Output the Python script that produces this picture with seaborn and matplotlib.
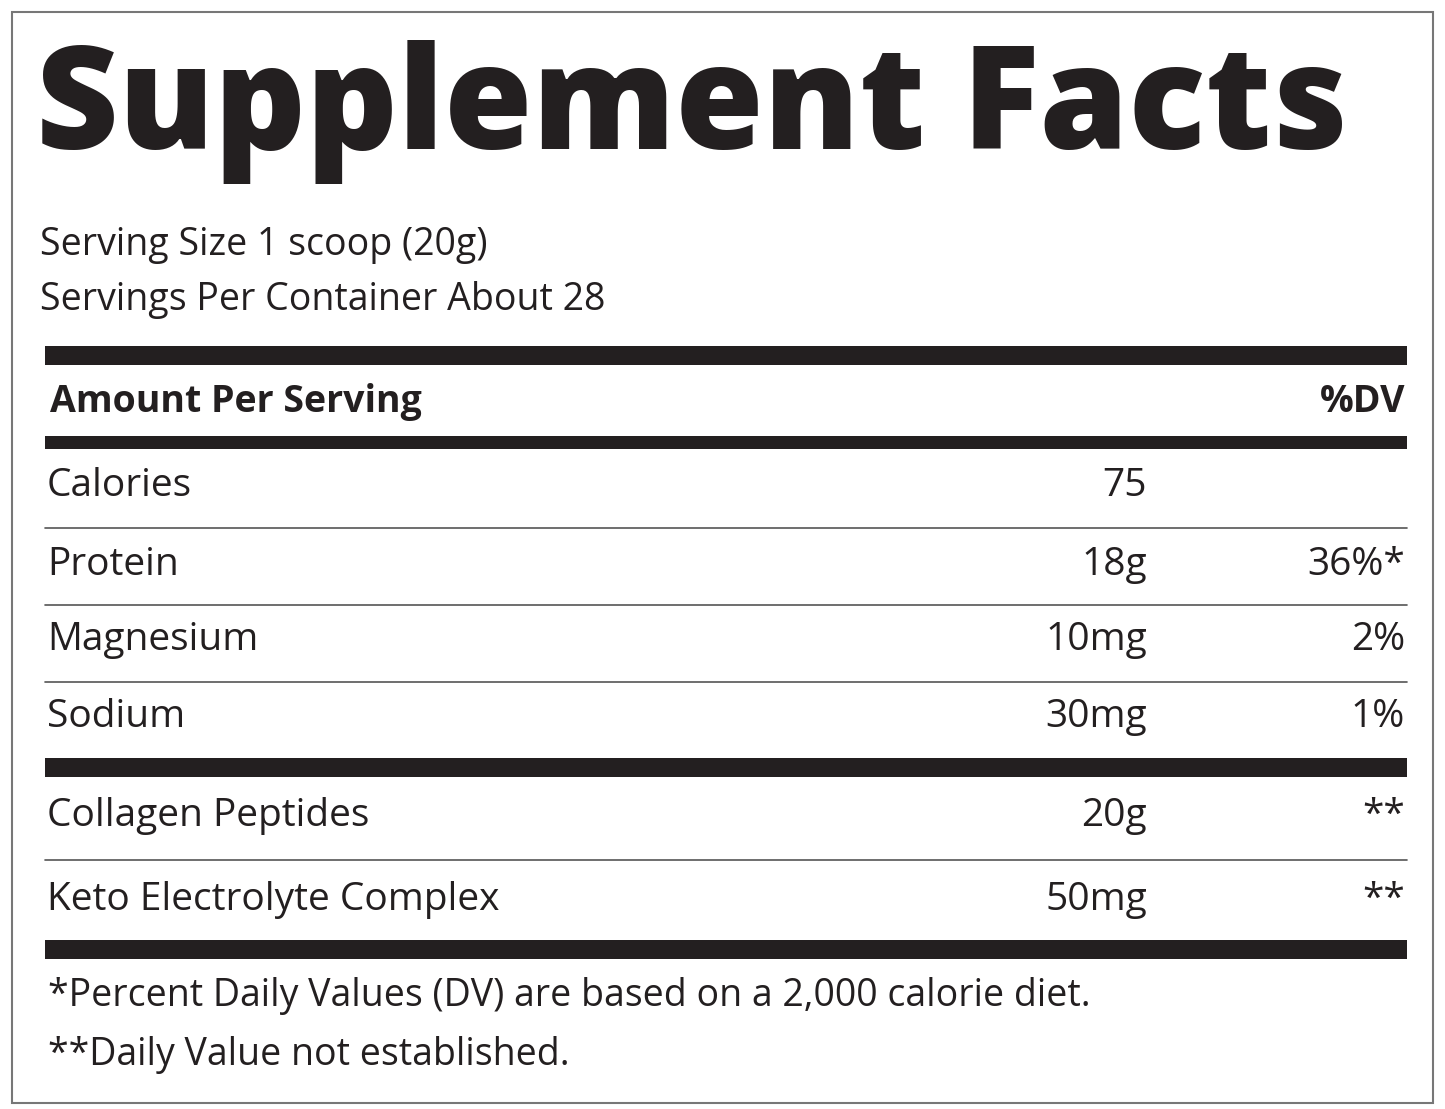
import matplotlib
matplotlib.use("Agg")
import matplotlib.pyplot as plt
import seaborn as sns

sns.set_style("white")
plt.rcParams['font.family'] = ['Open Sans', 'DejaVu Sans']

title = "Supplement Facts"
serving_lines = ["Serving Size 1 scoop (20g)", "Servings Per Container About 28"]
header = ["Amount Per Serving", "%DV"]
nutrients = ["Calories", "Protein", "Magnesium", "Sodium"]
nutrient_amounts = ["75", "18g", "10mg", "30mg"]
nutrient_dv = ["", "36%*", "2%", "1%"]
extras = ["Collagen Peptides", "Keto Electrolyte Complex"]
extra_amounts = ["20g", "50mg"]
extra_dv = ["**", "**"]
footnotes = ["*Percent Daily Values (DV) are based on a 2,000 calorie diet.",
             "**Daily Value not established."]

W, H = 1445, 1109
fig = plt.figure(figsize=(W / 100, H / 100), dpi=100)
ax = fig.add_axes([0, 0, 1, 1])
ax.set_xlim(0, W)
ax.set_ylim(H, 0)
ax.axis("off")

ink = "#231f20"
# outer border
ax.add_patch(plt.Rectangle((12, 12), 1421, 1091, fill=False, ec="#777777", lw=1.5))

ax.text(36, 112, title, fontsize=103, fontweight="heavy", color=ink, va="center", ha="left")
for y, s in zip([245, 300], serving_lines):
    ax.text(40, y, s, fontsize=27, color=ink, va="center")

x0, x1 = 45, 1407
def bar(y, thick):
    ax.add_patch(plt.Rectangle((x0, y - thick / 2), x1 - x0, thick, color=ink, lw=0))
def thin(y):
    ax.plot([x0, x1], [y, y], color="#555555", lw=1.2)

bar(355, 19)
ax.text(50, 402, header[0], fontsize=27, fontweight="bold", color=ink, va="center")
ax.text(1405, 402, header[1], fontsize=27, fontweight="bold", color=ink, va="center", ha="right")
bar(442, 13)

row_y = [486, 565, 640, 717]
for i, (n, a, d) in enumerate(zip(nutrients, nutrient_amounts, nutrient_dv)):
    y = row_y[i]
    ax.text(47, y, n, fontsize=28, color=ink, va="center")
    ax.text(1147, y, a, fontsize=28, color=ink, va="center", ha="right")
    ax.text(1405, y, d, fontsize=28, color=ink, va="center", ha="right")
for y in [528, 605, 682]:
    thin(y)
bar(767, 19)

extra_y = [816, 900]
for y, n, a, d in zip(extra_y, extras, extra_amounts, extra_dv):
    ax.text(47, y, n, fontsize=28, color=ink, va="center")
    ax.text(1147, y, a, fontsize=28, color=ink, va="center", ha="right")
    ax.text(1405, y, d, fontsize=28, color=ink, va="center", ha="right")
thin(860)
bar(949, 19)

for y, s in zip([996, 1055], footnotes):
    ax.text(48, y, s, fontsize=27, color=ink, va="center")

fig.savefig("out.png", dpi=100, facecolor="white")
